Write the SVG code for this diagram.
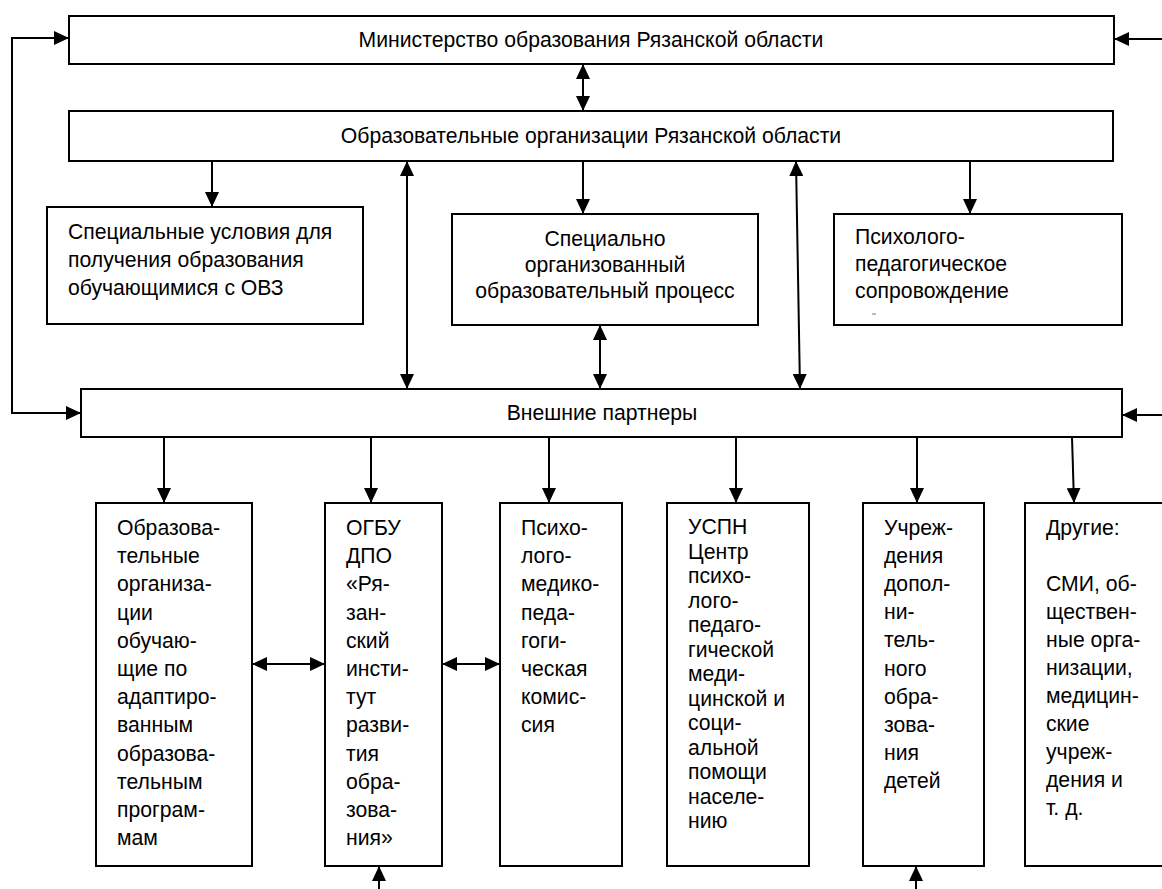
<svg xmlns="http://www.w3.org/2000/svg" width="1162" height="889" viewBox="0 0 1162 889">
<style>
.box{fill:#fff;stroke:#000;stroke-width:2}
.t{font-family:"Liberation Sans",Arial,sans-serif;font-size:21.2px;fill:#000}
.c{text-anchor:middle}
.ln{fill:none;stroke:#000;stroke-width:2}
</style>
<defs>
<marker id="ah" viewBox="0 0 15 14" markerWidth="15" markerHeight="14" refX="15" refY="7" orient="auto-start-reverse" markerUnits="userSpaceOnUse">
<path d="M0,0 L15,7 L0,14 z" fill="#000"/>
</marker>
</defs>
<rect width="1162" height="889" fill="#fff"/>

<g id="connectors">
<path class="ln" d="M69,38 H12 V413 H81" marker-start="url(#ah)" marker-end="url(#ah)"/>
<path class="ln" d="M1162,39 H1114" marker-end="url(#ah)"/>
<path class="ln" d="M583,64 V111" marker-start="url(#ah)" marker-end="url(#ah)"/>
<path class="ln" d="M212,161 V207" marker-end="url(#ah)"/>
<path class="ln" d="M407,161 V389" marker-start="url(#ah)" marker-end="url(#ah)"/>
<path class="ln" d="M583,161 V214" marker-end="url(#ah)"/>
<path class="ln" d="M600,325 V389" marker-start="url(#ah)" marker-end="url(#ah)"/>
<path class="ln" d="M796,161 L800,389" marker-start="url(#ah)" marker-end="url(#ah)"/>
<path class="ln" d="M970,161 V214" marker-end="url(#ah)"/>
<path class="ln" d="M1162,415 H1122" marker-end="url(#ah)"/>
<path class="ln" d="M164,437 V503" marker-end="url(#ah)"/>
<path class="ln" d="M371,437 V503" marker-end="url(#ah)"/>
<path class="ln" d="M549,437 V503" marker-end="url(#ah)"/>
<path class="ln" d="M736,437 V503" marker-end="url(#ah)"/>
<path class="ln" d="M917,437 V503" marker-end="url(#ah)"/>
<path class="ln" d="M1072,437 L1074,503" marker-end="url(#ah)"/>
<path class="ln" d="M252,664 H325" marker-start="url(#ah)" marker-end="url(#ah)"/>
<path class="ln" d="M442,664 H500" marker-start="url(#ah)" marker-end="url(#ah)"/>
<path class="ln" d="M379,889 V866" marker-end="url(#ah)"/>
<path class="ln" d="M916,889 V866" marker-end="url(#ah)"/>
</g>

<g id="ministry">
<rect class="box" x="69" y="16" width="1045" height="48"/>
<text class="t c" x="591" y="47">Министерство образования Рязанской области</text>
</g>

<g id="edu-orgs">
<rect class="box" x="69" y="111" width="1044" height="50"/>
<text class="t c" x="591" y="143">Образовательные организации Рязанской области</text>
</g>

<g id="special-conditions">
<rect class="box" x="47" y="207" width="316" height="117"/>
<text class="t" x="68" y="239"><tspan x="68">Специальные условия для</tspan><tspan x="68" dy="28">получения образования</tspan><tspan x="68" dy="28">обучающимися с ОВЗ</tspan></text>
</g>

<g id="special-process">
<rect class="box" x="452" y="214" width="306" height="111"/>
<text class="t c" x="605" y="246"><tspan x="605">Специально</tspan><tspan x="605" dy="26">организованный</tspan><tspan x="605" dy="26">образовательный процесс</tspan></text>
</g>

<g id="psych-support">
<rect class="box" x="834" y="214" width="288" height="111"/>
<text class="t" x="855" y="244"><tspan x="855">Психолого-</tspan><tspan x="855" dy="27">педагогическое</tspan><tspan x="855" dy="27">сопровождение</tspan></text>
<line x1="872" y1="314" x2="876" y2="314" stroke="#777" stroke-width="1"/>
</g>

<g id="external-partners">
<rect class="box" x="81" y="389" width="1041" height="48"/>
<text class="t c" x="602" y="420">Внешние партнеры</text>
</g>

<g id="adapted-orgs">
<rect class="box" x="96" y="503" width="156" height="363"/>
<text class="t" x="117" y="535"><tspan x="117">Образова-</tspan><tspan x="117" dy="28.2">тельные</tspan><tspan x="117" dy="28.2">организа-</tspan><tspan x="117" dy="28.2">ции</tspan><tspan x="117" dy="28.2">обучаю-</tspan><tspan x="117" dy="28.2">щие по</tspan><tspan x="117" dy="28.2">адаптиро-</tspan><tspan x="117" dy="28.2">ванным</tspan><tspan x="117" dy="28.2">образова-</tspan><tspan x="117" dy="28.2">тельным</tspan><tspan x="117" dy="28.2">програм-</tspan><tspan x="117" dy="28.2">мам</tspan></text>
</g>

<g id="ogbu-dpo">
<rect class="box" x="325" y="503" width="117" height="363"/>
<text class="t" x="346" y="535"><tspan x="346">ОГБУ</tspan><tspan x="346" dy="28.2">ДПО</tspan><tspan x="346" dy="28.2">«Ря-</tspan><tspan x="346" dy="28.2">зан-</tspan><tspan x="346" dy="28.2">ский</tspan><tspan x="346" dy="28.2">инсти-</tspan><tspan x="346" dy="28.2">тут</tspan><tspan x="346" dy="28.2">разви-</tspan><tspan x="346" dy="28.2">тия</tspan><tspan x="346" dy="28.2">обра-</tspan><tspan x="346" dy="28.2">зова-</tspan><tspan x="346" dy="28.2">ния»</tspan></text>
</g>

<g id="pmpk">
<rect class="box" x="500" y="503" width="122" height="363"/>
<text class="t" x="521" y="535"><tspan x="521">Психо-</tspan><tspan x="521" dy="28.2">лого-</tspan><tspan x="521" dy="28.2">медико-</tspan><tspan x="521" dy="28.2">педа-</tspan><tspan x="521" dy="28.2">гоги-</tspan><tspan x="521" dy="28.2">ческая</tspan><tspan x="521" dy="28.2">комис-</tspan><tspan x="521" dy="28.2">сия</tspan></text>
</g>

<g id="uspn">
<rect class="box" x="667" y="503" width="142" height="363"/>
<text class="t" x="688" y="534"><tspan x="688">УСПН</tspan><tspan x="688" dy="24.5">Центр</tspan><tspan x="688" dy="24.5">психо-</tspan><tspan x="688" dy="24.5">лого-</tspan><tspan x="688" dy="24.5">педаго-</tspan><tspan x="688" dy="24.5">гической</tspan><tspan x="688" dy="24.5">меди-</tspan><tspan x="688" dy="24.5">цинской и</tspan><tspan x="688" dy="24.5">соци-</tspan><tspan x="688" dy="24.5">альной</tspan><tspan x="688" dy="24.5">помощи</tspan><tspan x="688" dy="24.5">населе-</tspan><tspan x="688" dy="24.5">нию</tspan></text>
</g>

<g id="additional-edu">
<rect class="box" x="863" y="503" width="121" height="363"/>
<text class="t" x="884" y="535"><tspan x="884">Учреж-</tspan><tspan x="884" dy="28.1">дения</tspan><tspan x="884" dy="28.1">допол-</tspan><tspan x="884" dy="28.1">ни-</tspan><tspan x="884" dy="28.1">тель-</tspan><tspan x="884" dy="28.1">ного</tspan><tspan x="884" dy="28.1">обра-</tspan><tspan x="884" dy="28.1">зова-</tspan><tspan x="884" dy="28.1">ния</tspan><tspan x="884" dy="28.1">детей</tspan></text>
</g>

<g id="others">
<rect class="box" x="1025" y="503" width="150" height="363"/>
<text class="t" x="1046" y="535"><tspan x="1046">Другие:</tspan><tspan x="1046" dy="56">СМИ, об-</tspan><tspan x="1046" dy="28">ществен-</tspan><tspan x="1046" dy="28">ные орга-</tspan><tspan x="1046" dy="28">низации,</tspan><tspan x="1046" dy="28">медицин-</tspan><tspan x="1046" dy="28">ские</tspan><tspan x="1046" dy="28">учреж-</tspan><tspan x="1046" dy="28">дения и</tspan><tspan x="1046" dy="28">т. д.</tspan></text>
</g>
</svg>
